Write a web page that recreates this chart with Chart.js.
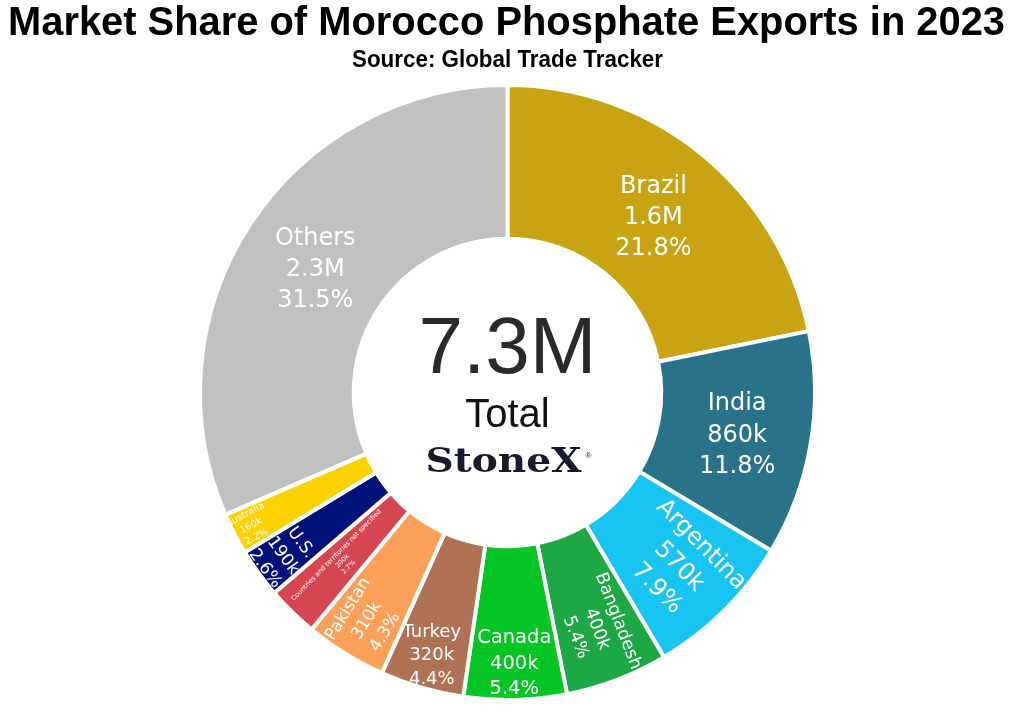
<!DOCTYPE html>
<html>
<head>
<meta charset="utf-8">
<script src="https://cdn.jsdelivr.net/npm/chart.js@4.4.1/dist/chart.umd.min.js"></script>
<style>
  html, body { margin: 0; padding: 0; background: #ffffff; }
  #wrap { width: 1011px; height: 712px; position: relative; }
</style>
</head>
<body>
<div id="wrap"><canvas id="c" width="1011" height="712"></canvas></div>
<script>
// ---- data ----
const countries = ['Brazil', 'India', 'Argentina', 'Bangladesh', 'Canada', 'Turkey', 'Pakistan',
  'Countries and territories not specified', 'U.S.', 'Australia', 'Others'];
const shares = [21.8, 11.8, 7.9, 5.4, 5.4, 4.4, 4.3, 2.7, 2.6, 2.2, 31.5];
const amounts = ['1.6M', '860k', '570k', '400k', '400k', '320k', '310k', '200k', '190k', '160k', '2.3M'];
const totalText = '7.3M';
const titleText = 'Market Share of Morocco Phosphate Exports in 2023';
const subtitleText = 'Source: Global Trade Tracker';

// ---- styling (separate from data) ----
const sliceColors = ['#C8A413', '#287389', '#18C5F2', '#1EA845', '#03C624', '#AF7254', '#FFA05A',
  '#D64551', '#00127A', '#FFD100', '#C0C0C0'];
const labelSize = [24, 24, 24, 17.4, 19.5, 18, 16.8, 6.6, 17, 9.5, 24];
const labelRing = [0.50, 0.515, 0.59, 0.645, 0.745, 0.765, 0.743, 0.535, 0.80, 0.88, 0.496];
const labelMode = ['h', 'h', 'r', 'r', 'h', 'h', 'r', 'r', 't', 'r', 'h'];

const sliceLabels = {
  id: 'sliceLabels',
  afterDatasetsDraw(chart) {
    const ctx = chart.ctx;
    const meta = chart.getDatasetMeta(0);
    meta.data.forEach((arc, i) => {
      const p = arc.getProps(['x', 'y', 'startAngle', 'endAngle', 'innerRadius', 'outerRadius'], true);
      const mid = (p.startAngle + p.endAngle) / 2;
      const r = p.innerRadius + (p.outerRadius - p.innerRadius) * labelRing[i];
      const cx = p.x + r * Math.cos(mid);
      const cy = p.y + r * Math.sin(mid);
      let rot = 0;
      if (labelMode[i] === 'r') {
        rot = mid;
        if (Math.cos(rot) < 0) rot += Math.PI;
      } else if (labelMode[i] === 't') {
        rot = mid + Math.PI / 2;
        if (Math.cos(rot) < 0) rot += Math.PI;
      }
      const lines = [countries[i], amounts[i], shares[i].toFixed(1) + '%'];
      const fs = labelSize[i];
      const lh = fs * 1.3;
      ctx.save();
      ctx.translate(cx, cy);
      ctx.rotate(rot);
      ctx.fillStyle = '#ffffff';
      ctx.font = fs + 'px "DejaVu Sans", Verdana, sans-serif';
      ctx.textAlign = 'center';
      ctx.textBaseline = 'middle';
      const dy = (labelMode[i] === 'h') ? fs * 0.15 : fs * 0.05;
      lines.forEach((t, k) => {
        ctx.fillText(t, 0, (k - (lines.length - 1) / 2) * lh + dy);
      });
      ctx.restore();
    });
  }
};

function fitText(ctx, text, x, y, font, targetW, color) {
  ctx.save();
  ctx.font = font;
  ctx.fillStyle = color;
  ctx.textAlign = 'center';
  ctx.textBaseline = 'alphabetic';
  const w = ctx.measureText(text).width;
  const s = targetW / w;
  ctx.translate(x, y);
  ctx.scale(s, 1);
  ctx.fillText(text, 0, 0);
  ctx.restore();
}

const headerAndCenter = {
  id: 'headerAndCenter',
  afterDraw(chart) {
    const ctx = chart.ctx;
    // title + subtitle
    fitText(ctx, titleText, 506.5, 35, 'bold 41px "Liberation Sans", Arial, sans-serif', 997, '#000000');
    fitText(ctx, subtitleText, 507.5, 67, 'bold 23px "Liberation Sans", Arial, sans-serif', 311, '#000000');
    // centre text
    const meta = chart.getDatasetMeta(0);
    const a = meta.data[0];
    const cx = a.x;
    ctx.save();
    ctx.textAlign = 'center';
    ctx.textBaseline = 'alphabetic';
    ctx.fillStyle = '#2a2a2a';
    ctx.font = '80px "Liberation Sans", Arial, sans-serif';
    ctx.fillText(totalText, cx, 372.5);
    ctx.fillStyle = '#111111';
    ctx.font = '40px "Liberation Sans", Arial, sans-serif';
    ctx.fillText('Total', cx, 427);
    ctx.restore();
    fitText(ctx, 'StoneX', cx - 4, 472, 'bold 33px "DejaVu Serif", "Liberation Serif", serif', 156, '#161a2a');
    ctx.save();
    ctx.fillStyle = '#161a2a';
    ctx.font = '8px "Liberation Sans", Arial, sans-serif';
    ctx.textAlign = 'left';
    ctx.fillText('®', cx + 78, 458);
    ctx.restore();
  }
};

new Chart(document.getElementById('c'), {
  type: 'doughnut',
  data: {
    labels: countries,
    datasets: [{
      data: shares,
      backgroundColor: sliceColors,
      borderColor: '#ffffff',
      borderWidth: 4
    }]
  },
  options: {
    responsive: false,
    animation: false,
    cutout: '50%',
    rotation: 0,
    layout: { padding: { top: 83, bottom: 10, left: 4, right: 0 } },
    plugins: {
      legend: { display: false },
      tooltip: { enabled: false },
      title: { display: false }
    }
  },
  plugins: [sliceLabels, headerAndCenter]
});
</script>
</body>
</html>
